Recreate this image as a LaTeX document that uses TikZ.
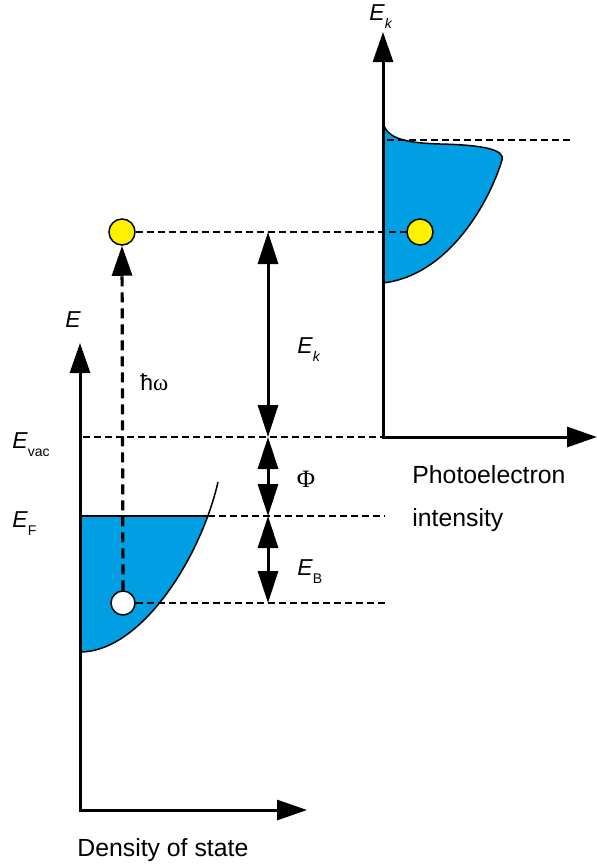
\documentclass[tikz,border=0pt]{standalone}
\usepackage{fontspec}
\setmainfont{Liberation Sans}
\newfontfamily\greekfont{Liberation Serif}
\usetikzlibrary{arrows.meta}
\definecolor{dosBlue}{HTML}{009FE3}
\definecolor{elecYellow}{HTML}{FFF200}
\newcommand{\lowsub}[1]{\raisebox{-4pt}{\fontsize{7}{7}\selectfont #1}}
\tikzset{
  axisArrow/.style={-{Triangle[length=15pt, width=10pt]}, line width=1.5pt},
  dimArrow/.style={{Triangle[length=16pt, width=10pt]}-{Triangle[length=16pt, width=10pt]},
                   line width=1.5pt},
  photonArrow/.style={-{Triangle[length=15pt, width=10pt]}, line width=1.6pt,
                      dash pattern=on 5pt off 3pt},
  eLevel/.style={line width=0.75pt, dash pattern=on 3.5pt off 2pt},
  bandLine/.style={draw=black, line width=0.75pt},
  electron/.style={circle, draw=black, fill=elecYellow, line width=0.75pt,
                   minimum size=13pt, inner sep=0pt},
  holeDot/.style={circle, draw=black, fill=white, line width=0.75pt,
                  minimum size=12pt, inner sep=0pt},
  symLbl/.style={font=\fontsize{11.5}{13}\selectfont, inner sep=0pt, anchor=base west},
  txtLbl/.style={font=\fontsize{12.4}{14}\selectfont, inner sep=0pt, anchor=base west},
}

\begin{document}
\begin{tikzpicture}[x=0.5pt, y=-0.5pt]
  \useasboundingbox (0,0) rectangle (597,868);

  % axes
  \coordinate (origL) at (80,810);
  \coordinate (topL) at (80,343);
  \coordinate (endL) at (307,810);
  \coordinate (origR) at (383,437);
  \coordinate (topR) at (383,32);
  \coordinate (endR) at (597,437);

  % density of states (left)
  \begin{scope}
    \clip (80,516) rectangle (240,660);
    \fill[dosBlue] (80,652) .. controls (140,652) and (200,560) .. (218,482) -- (80,482) -- cycle;
  \end{scope}
  \coordinate (fermiEdge) at (207.8,516);
  \draw[bandLine] (80,652) .. controls (140,652) and (200,560) .. (218,482);
  \draw[bandLine] (80,516) -- (fermiEdge);

  % photoelectron spectrum (right)
  \filldraw[fill=dosBlue, bandLine] (383,122) .. controls (386,140) and (410,143) .. (440,144)
    .. controls (485,145) and (505,150) .. (502,160)
    .. controls (490,200) and (450,275) .. (383,283) -- cycle;

  \draw[axisArrow] (origL) -- (topL);
  \draw[axisArrow] ([xshift=-0.75pt]origL) -- (endL);
  \draw[axisArrow] (origR) -- (topR);
  \draw[axisArrow] ([xshift=-0.75pt]origR) -- (endR);

  % energy levels
  \node[electron] (elecL) at (122,232) {};
  \node[electron] (elecR) at (420,232) {};
  \node[holeDot] (hole) at (123,603) {};
  \coordinate (vacL) at (83,437);
  \coordinate (fermiR) at (385,516);
  \coordinate (bindR) at (385,603);
  \coordinate (cutL) at (387,140);
  \coordinate (cutR) at (570,140);

  \draw[eLevel] (elecL) -- (elecR);
  \draw[eLevel] (vacL) -- (origR);
  \draw[eLevel] (fermiEdge) -- (fermiR);
  \draw[eLevel] (hole) -- (bindR);
  \draw[eLevel] (cutL) -- (cutR);

  % excitation and energy balance
  \draw[photonArrow] (hole.north) -- (elecL.south);
  \coordinate (kinTop) at (268,232);
  \coordinate (vacMid) at (268,437);
  \coordinate (fermiMid) at (268,516);
  \coordinate (bindMid) at (268,603);
  \draw[dimArrow] (kinTop) -- (vacMid);
  \draw[dimArrow] (vacMid) -- (fermiMid);
  \draw[dimArrow] (fermiMid) -- (bindMid);

  % labels
  \node[symLbl] (eLbl) at (65,327) {\textit{E}};
  \node[symLbl] (ekLbl) at (369,20) {\textit{E}\lowsub{\textit{k}}};
  \node[symLbl] (vacLbl) at (12,448) {\textit{E}\lowsub{vac}};
  \node[symLbl] (fermiLbl) at (12,527) {\textit{E}\lowsub{F}};
  \node[symLbl] (kinLbl) at (297,353) {\textit{E}\lowsub{\textit{k}}};
  \node[symLbl, anchor=base, font=\greekfont\fontsize{12.5}{14}\selectfont] (phiLbl) at (306,487) {Φ};
  \node[symLbl] (bindLbl) at (297,575) {\textit{E}\lowsub{B}};
  \node[symLbl] (hwLbl) at (140,390) {ħ{\greekfont ω}};
  \node[txtLbl] (photoLbl) at (412,483) {Photoelectron};
  \node[txtLbl] (intLbl) at (412,526) {intensity};
  \node[txtLbl] (dosLbl) at (77,856) {Density of state};
\end{tikzpicture}
\end{document}
